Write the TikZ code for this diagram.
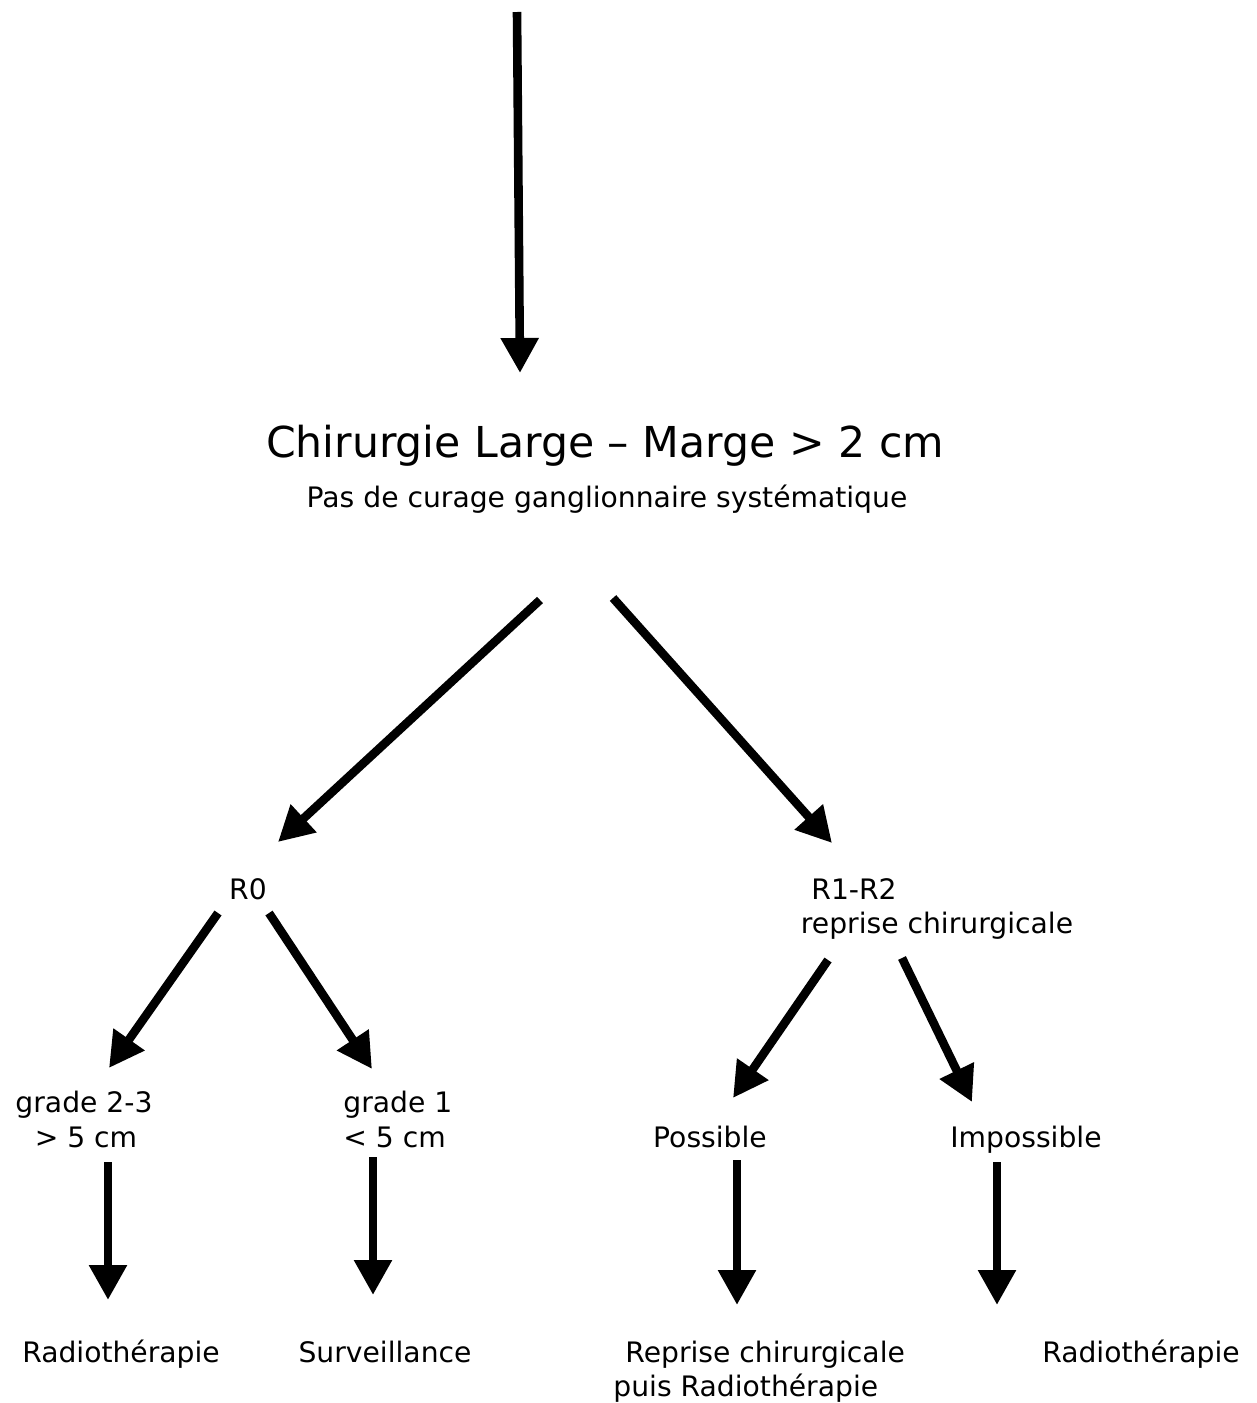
\documentclass[tikz,border=0pt]{standalone}
\usepackage{fontspec}
\setmainfont{DejaVu Sans}
\usetikzlibrary{arrows.meta}
\begin{document}
\begin{tikzpicture}[x=0.5pt,y=-0.5pt,
  txt/.style={inner sep=0pt,anchor=base,font=\fontsize{14.1}{17.5}\selectfont},
  bigtxt/.style={inner sep=0pt,anchor=base,font=\fontsize{21.3}{26}\selectfont},
  arr/.style={line width=4.3pt,-{Triangle[width=18pt,length=17.5pt]}}]
\useasboundingbox (0,0) rectangle (1257,1403);
% texts
\node[bigtxt] (title) at (605,457) {Chirurgie Large – Marge > 2 cm};
\node[txt] (sub) at (607,507) {Pas de curage ganglionnaire systématique};
\node[txt] (r0) at (248,899) {R0};
\node[txt,anchor=base west] (r12) at (811,899) {R1-R2};
\node[txt] (rep) at (937,933) {reprise chirurgicale};
\node[txt] (g23a) at (84,1112) {grade 2-3};
\node[txt] (g23b) at (86,1147) {> 5 cm};
\node[txt,anchor=base west] (g1a) at (343,1112) {grade 1};
\node[txt,anchor=base west] (g1b) at (343,1147) {< 5 cm};
\node[txt] (pos) at (710,1147) {Possible};
\node[txt] (imp) at (1026,1147) {Impossible};
\node[txt] (rad1) at (121,1362) {Radiothérapie};
\node[txt] (surv) at (385,1362) {Surveillance};
\node[txt,anchor=base west] (rep2) at (625,1362) {Reprise chirurgicale};
\node[txt,anchor=base west] (puis) at (613,1396) {puis Radiothérapie};
\node[txt] (rad2) at (1141,1362) {Radiothérapie};
% arrow end points
\coordinate (s0) at (517,12);   \coordinate (e0) at (520,373);
\coordinate (s1) at (540,600);  \coordinate (e1) at (278,842);
\coordinate (s2) at (613,598);  \coordinate (e2) at (832,843);
\coordinate (s3) at (218,913);  \coordinate (e3) at (109,1068);
\coordinate (s4) at (269,913);  \coordinate (e4) at (372,1069);
\coordinate (s5) at (108,1162); \coordinate (e5) at (108,1300);
\coordinate (s6) at (373,1157); \coordinate (e6) at (373,1295);
\coordinate (s7) at (828,960);  \coordinate (e7) at (733,1098);
\coordinate (s8) at (902,958);  \coordinate (e8) at (972,1102);
\coordinate (s9) at (737,1160); \coordinate (e9) at (737,1305);
\coordinate (s10) at (997,1162); \coordinate (e10) at (997,1305);
\foreach \i in {0,...,10}{\draw[arr] (s\i) -- (e\i);}
\end{tikzpicture}
\end{document}
